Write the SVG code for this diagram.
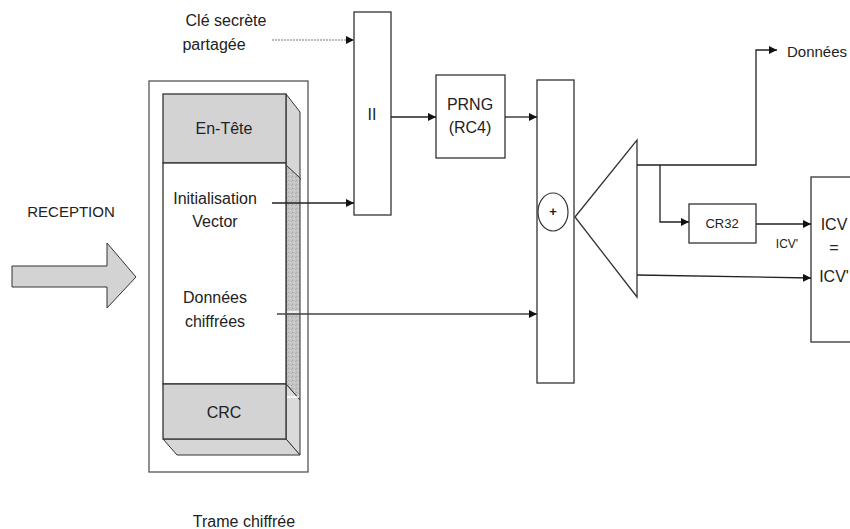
<svg xmlns="http://www.w3.org/2000/svg" width="850" height="529" viewBox="0 0 850 529">
<defs>
<marker id="ah" markerWidth="8" markerHeight="8" refX="8" refY="4" orient="auto" markerUnits="userSpaceOnUse">
<path d="M0,0 L8,4 L0,8 Z" fill="#111"/>
</marker>
<pattern id="speck" width="4" height="4" patternUnits="userSpaceOnUse">
<rect width="4" height="4" fill="#c4c4c4"/>
<rect x="0" y="0" width="1" height="1" fill="#a8a8a8"/>
<rect x="2" y="2" width="1" height="1" fill="#e0e0e0"/>
<rect x="3" y="1" width="1" height="1" fill="#b0b0b0"/>
</pattern>
</defs>
<style>
text{font-family:"Liberation Sans",Arial,sans-serif;fill:#222;font-size:16px;text-anchor:middle}
.box{fill:#fff;stroke:#333;stroke-width:1.3}
.ln{fill:none;stroke:#222;stroke-width:1.3}
.sm{font-size:13px}
</style>
<rect width="850" height="529" fill="#fff"/>

<g id="reception">
<text x="71" y="217" style="font-size:15px">RECEPTION</text>
<path d="M12,266 H107 V243 L136,277 L107,308 V287 H12 Z" fill="#d3d3d3" stroke="#333" stroke-width="1"/>
</g>

<g id="cle">
<text x="226" y="26">Clé secrète</text>
<text x="214" y="50">partagée</text>
</g>

<g id="trame">
<rect x="149" y="81" width="159" height="391" fill="#fff" stroke="#555" stroke-width="1.3"/>
<polygon points="286,94 300,112 300,180 286,165" fill="#d6d6d6" stroke="#333" stroke-width="1"/>
<polygon points="286,165 300,178 300,400 286,384" fill="url(#speck)" stroke="#333" stroke-width="1"/>
<polygon points="286,384 300,400 300,455 286,439" fill="#dadada" stroke="#333" stroke-width="1"/>
<line x1="287" y1="397" x2="299" y2="397" stroke="#fff" stroke-width="1.5"/>
<polygon points="163,439 286,439 300,455 177,455" fill="#d6d6d6" stroke="#333" stroke-width="1"/>
<rect x="163" y="94" width="123" height="69" fill="#d3d3d3" stroke="#333" stroke-width="1.3"/>
<rect x="163" y="163" width="123" height="221" fill="#fff" stroke="#333" stroke-width="1.3"/>
<rect x="163" y="384" width="123" height="55" fill="#d3d3d3" stroke="#333" stroke-width="1.3"/>
<text x="224" y="134">En-Tête</text>
<text x="215" y="204">Initialisation</text>
<text x="215" y="227">Vector</text>
<text x="215" y="303">Données</text>
<text x="215" y="327">chiffrées</text>
<text x="224" y="418">CRC</text>
<text x="244" y="527">Trame chiffrée</text>
</g>

<g id="concat">
<rect class="box" x="354" y="12" width="37" height="203"/>
<text x="372" y="120">II</text>
</g>

<g id="prng">
<rect class="box" x="436" y="75" width="69" height="83"/>
<text x="470" y="110">PRNG</text>
<text x="470" y="133">(RC4)</text>
</g>

<g id="xor">
<rect class="box" x="537" y="80" width="37" height="303"/>
<ellipse cx="553" cy="212" rx="15" ry="19" fill="#fff" stroke="#333" stroke-width="1.2"/>
<text x="553" y="216" style="font-size:13px;font-weight:bold">+</text>
</g>

<g id="split">
<polygon points="575,217 637,140 637,297" fill="#fff" stroke="#333" stroke-width="1.3"/>
</g>

<g id="cr32">
<rect class="box" x="689" y="204" width="67" height="39"/>
<text x="722" y="228" class="sm">CR32</text>
</g>

<g id="icv">
<rect class="box" x="811" y="177" width="60" height="165"/>
<text x="834" y="230">ICV</text>
<text x="834" y="253">=</text>
<text x="834" y="282">ICV'</text>
</g>

<g id="donnees">
<text x="787" y="57" style="text-anchor:start;font-size:15px">Données</text>
</g>

<g id="connectors">
<line x1="272" y1="40" x2="354" y2="40" stroke="#777" stroke-width="1" stroke-dasharray="2,1" marker-end="url(#ah)"/>
<line class="ln" x1="272" y1="203" x2="354" y2="203" marker-end="url(#ah)"/>
<line class="ln" x1="391" y1="117" x2="436" y2="117" marker-end="url(#ah)"/>
<line class="ln" x1="505" y1="117" x2="537" y2="117" marker-end="url(#ah)"/>
<line x1="277" y1="314" x2="537" y2="314" stroke="#444" stroke-width="1.3" marker-end="url(#ah)"/>
<line x1="287" y1="312" x2="299" y2="312" stroke="#fff" stroke-width="1.5"/>
<polyline class="ln" points="637,165 756,165 756,50 777,50" marker-end="url(#ah)"/>
<polyline class="ln" points="660,165 660,222 689,222" marker-end="url(#ah)"/>
<line class="ln" x1="756" y1="224" x2="811" y2="224" marker-end="url(#ah)"/>
<line class="ln" x1="637" y1="275" x2="811" y2="278" marker-end="url(#ah)"/>
<text x="787" y="248" class="sm" style="font-size:12px">ICV'</text>
</g>
</svg>
